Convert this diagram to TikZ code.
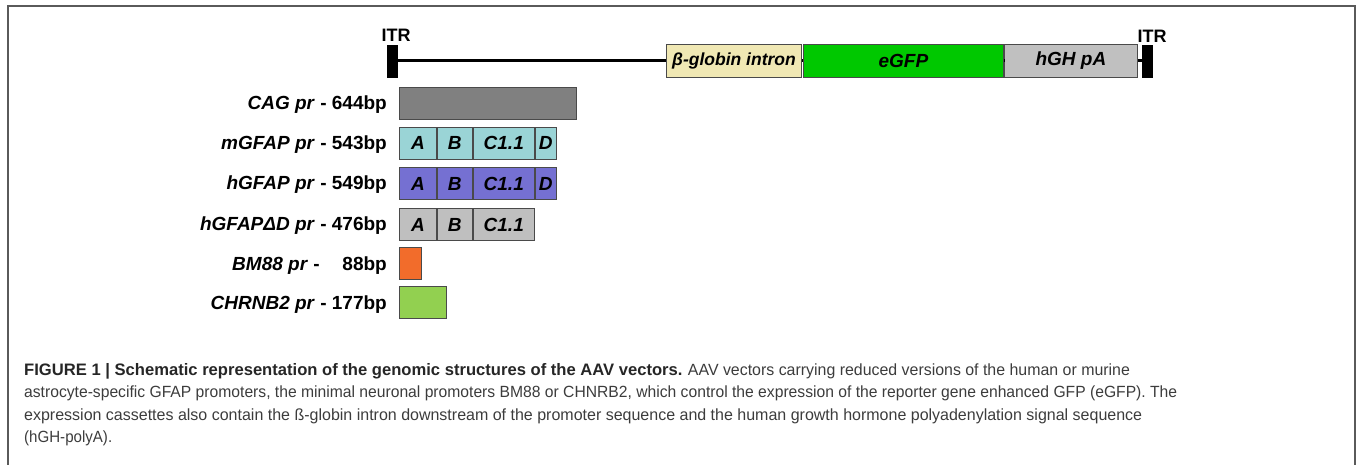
\documentclass[tikz,border=0pt]{standalone}
\usepackage{fontspec}
\usepackage{graphicx}
\setmainfont{Liberation Sans}
\definecolor{framecol}{HTML}{5A5A5A}
\definecolor{edgecol}{HTML}{4A4A4A}
\definecolor{introncol}{HTML}{F0E8B4}
\definecolor{egfpcol}{HTML}{00C800}
\definecolor{hghcol}{HTML}{C0C0C0}
\definecolor{cagcol}{HTML}{808080}
\definecolor{mgfapcol}{HTML}{9AD4D6}
\definecolor{hgfapcol}{HTML}{7570D2}
\definecolor{dgfapcol}{HTML}{BFBFBF}
\definecolor{bmcol}{HTML}{F26C2B}
\definecolor{chrcol}{HTML}{92D050}
\definecolor{captext}{HTML}{3C3C3C}
\newcommand\boxfnt{\fontsize{19}{21}\selectfont\bfseries\itshape}
\newcommand\lblfnt{\fontsize{19}{21}\selectfont\bfseries}
\newcommand\capfnt{\fontsize{16.2}{20}\selectfont}
\newcommand\fitw[2]{\resizebox{#1}{\height}{#2}}
\begin{document}
\begin{tikzpicture}[x=1pt,y=-1pt,
  seg/.style={draw=edgecol, line width=0.9pt, minimum height=32pt, inner sep=0pt, anchor=west, font=\boxfnt},
  cas/.style={draw=edgecol, line width=0.9pt, minimum height=33pt, inner sep=0pt, anchor=west, font=\boxfnt},
  itrbar/.style={fill=black, draw=black, minimum width=10pt, minimum height=32pt, inner sep=0pt, anchor=west},
  itrlbl/.style={font=\fontsize{18}{20}\selectfont\bfseries, inner sep=0pt},
  rowlbl/.style={font=\lblfnt, inner sep=0pt, anchor=base east},
  capline/.style={font=\capfnt, text=captext, inner sep=0pt, anchor=base west},
  link/.style={line width=3pt, black}]
\useasboundingbox (0,0) rectangle (1358,465);
% frame
\draw[framecol, line width=2pt] (7.5,466) -- (7.5,6.5) -- (1355,6.5) -- (1355,466);
% cassette
\node[itrbar] (itrL) at (387,61) {};
\node[itrlbl] (itrLt) at (396,35.5) {ITR};
\node[cas, fill=introncol, minimum width=135pt, font=\fontsize{17.5}{20}\selectfont\bfseries\itshape] (intron) at (666,61) {β-globin intron};
\node[cas, fill=egfpcol, minimum width=200pt] (egfp) at (803,61) {eGFP};
\node[cas, fill=hghcol, minimum width=133pt] (hgh) at (1004,61) {hGH pA};
\node[itrbar] (itrR) at (1142,61) {};
\node[itrlbl] (itrRt) at (1152,36) {ITR};
\draw[link] (itrL.east) -- (intron.west);
\draw[link] (intron.east) -- (egfp.west);
\draw[link] (egfp.east) -- (hgh.west);
\draw[link] (hgh.east) -- (itrR.west);
% CAG
\node[rowlbl] (lcag) at (387,110) {\textit{CAG pr} - 644bp};
\node[seg, fill=cagcol, minimum width=177pt] (cag) at (399,103.5) {};
% mGFAP
\node[rowlbl] (lm) at (387,150) {\textit{mGFAP pr} - 543bp};
\node[seg, fill=mgfapcol, minimum width=37pt] (mA) at (399,143) {A};
\node[seg, fill=mgfapcol, minimum width=35pt] (mB) at (mA.east) {B};
\node[seg, fill=mgfapcol, minimum width=61pt] (mC) at (mB.east) {C1.1};
\node[seg, fill=mgfapcol, minimum width=21pt] (mD) at (mC.east) {D};
% hGFAP
\node[rowlbl] (lh) at (387,190) {\textit{hGFAP pr} - 549bp};
\node[seg, fill=hgfapcol, minimum width=37pt] (hA) at (399,183.5) {A};
\node[seg, fill=hgfapcol, minimum width=35pt] (hB) at (hA.east) {B};
\node[seg, fill=hgfapcol, minimum width=61pt] (hC) at (hB.east) {C1.1};
\node[seg, fill=hgfapcol, minimum width=21pt] (hD) at (hC.east) {D};
% hGFAP delta D
\node[rowlbl] (ld) at (387,231) {\textit{hGFAPΔD pr} - 476bp};
\node[seg, fill=dgfapcol, minimum width=37pt] (dA) at (399,224.5) {A};
\node[seg, fill=dgfapcol, minimum width=35pt] (dB) at (dA.east) {B};
\node[seg, fill=dgfapcol, minimum width=61pt] (dC) at (dB.east) {C1.1};
% BM88
\node[rowlbl] (lb) at (387,270) {\textit{BM88 pr} -\hspace{1.2em}88bp};
\node[seg, fill=bmcol, minimum width=22pt] (bm) at (399,263) {};
% CHRNB2
\node[rowlbl] (lc) at (387,309) {\textit{CHRNB2 pr} - 177bp};
\node[seg, fill=chrcol, minimum width=47pt] (chr) at (399,302) {};
% caption
\node[capline, text=black!85] (c1a) at (24,375) {\fontsize{16.6}{20}\selectfont\textbf{FIGURE 1 | Schematic representation of the genomic structures of the AAV vectors.}};
\node[capline, xshift=5pt] (c1b) at (c1a.base east) {\fitw{442pt}{AAV vectors carrying reduced versions of the human or murine}};
\node[capline] (c2) at (24,397.5) {\fitw{1153pt}{astrocyte-specific GFAP promoters, the minimal neuronal promoters BM88 or CHNRB2, which control the expression of the reporter gene enhanced GFP (eGFP). The}};
\node[capline] (c3) at (24,420) {\fitw{1118pt}{expression cassettes also contain the ß-globin intron downstream of the promoter sequence and the human growth hormone polyadenylation signal sequence}};
\node[capline] (c4) at (24,442.5) {\fitw{88pt}{(hGH-polyA).}};
\end{tikzpicture}
\end{document}
